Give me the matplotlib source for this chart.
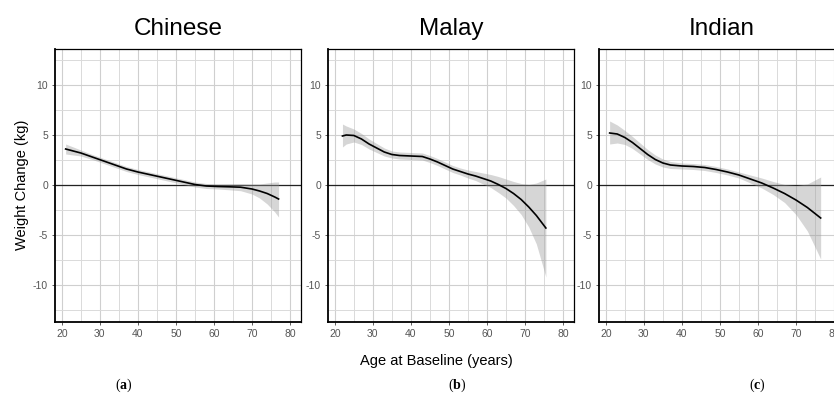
import matplotlib
matplotlib.use("Agg")
import matplotlib.pyplot as plt
from matplotlib.ticker import MultipleLocator

plt.rcParams['font.family'] = ['Liberation Sans', 'DejaVu Sans']
plt.rcParams['axes.unicode_minus'] = False
plt.rcParams['mathtext.fontset'] = 'custom'
plt.rcParams['mathtext.rm'] = 'Liberation Serif'
plt.rcParams['mathtext.bf'] = 'Liberation Serif:bold'

titles = ["Chinese", "Malay", "Indian"]
panel_tags = ["a", "b", "c"]

chinese_age = [21, 23, 25, 28, 31, 34, 37, 40, 43, 46, 49, 52, 55, 58, 61, 64, 67, 70, 72, 74, 76, 77]
chinese_fit = [3.6, 3.4, 3.2, 2.8, 2.4, 2.0, 1.6, 1.3, 1.05, 0.8, 0.55, 0.3, 0.05, -0.1, -0.15,
               -0.18, -0.22, -0.4, -0.6, -0.85, -1.2, -1.4]
chinese_hi = [4.1, 3.8, 3.5, 3.05, 2.65, 2.25, 1.85, 1.55, 1.3, 1.05, 0.8, 0.55, 0.3, 0.15, 0.1,
              0.12, 0.13, 0.1, 0.1, 0.2, 0.3, 0.3]
chinese_lo = [3.1, 3.0, 2.9, 2.55, 2.15, 1.75, 1.35, 1.05, 0.8, 0.55, 0.3, 0.05, -0.2, -0.35, -0.4,
              -0.48, -0.57, -0.9, -1.3, -1.9, -2.7, -3.2]

malay_age = [22, 23, 25, 27, 29, 31, 33, 35, 37, 40, 43, 45, 47, 49, 51, 53, 55, 57, 59, 61, 63,
             65, 67, 69, 71, 73, 75.5]
malay_fit = [4.9, 5.0, 4.95, 4.6, 4.1, 3.7, 3.3, 3.05, 2.95, 2.9, 2.85, 2.6, 2.3, 1.95, 1.6, 1.35,
             1.1, 0.9, 0.65, 0.4, 0.05, -0.35, -0.85, -1.45, -2.2, -3.05, -4.3]
malay_hi = [6.1, 5.9, 5.6, 5.15, 4.6, 4.15, 3.7, 3.4, 3.3, 3.25, 3.2, 2.95, 2.65, 2.3, 1.95, 1.7,
            1.5, 1.35, 1.2, 1.05, 0.85, 0.6, 0.35, 0.15, 0.05, 0.2, 0.6]
malay_lo = [3.8, 4.1, 4.3, 4.05, 3.6, 3.25, 2.9, 2.7, 2.6, 2.55, 2.5, 2.25, 1.95, 1.6, 1.25, 1.0,
            0.7, 0.45, 0.1, -0.25, -0.75, -1.3, -2.05, -2.95, -4.2, -5.9, -9.2]

indian_age = [21, 23, 25, 27, 29, 31, 33, 35, 37, 40, 43, 46, 49, 52, 55, 58, 61, 64, 67, 70, 73, 76.5]
indian_fit = [5.2, 5.1, 4.75, 4.25, 3.65, 3.05, 2.55, 2.2, 2.0, 1.9, 1.85, 1.75, 1.55, 1.3, 1.0,
              0.6, 0.2, -0.3, -0.85, -1.5, -2.25, -3.3]
indian_hi = [6.4, 6.0, 5.45, 4.85, 4.2, 3.55, 3.0, 2.6, 2.35, 2.2, 2.15, 2.05, 1.85, 1.6, 1.3,
             1.0, 0.7, 0.35, 0.05, -0.05, 0.1, 0.8]
indian_lo = [4.1, 4.2, 4.05, 3.65, 3.1, 2.55, 2.1, 1.8, 1.65, 1.6, 1.55, 1.45, 1.25, 1.0, 0.7,
             0.2, -0.3, -0.95, -1.75, -2.95, -4.6, -7.4]

series = [
    (chinese_age, chinese_fit, chinese_lo, chinese_hi),
    (malay_age, malay_fit, malay_lo, malay_hi),
    (indian_age, indian_fit, indian_lo, indian_hi),
]

W, H = 834, 394
fig = plt.figure(figsize=(W / 100, H / 100), dpi=100)

lefts = [55, 328, 599]
ax_w, ax_top, ax_bot = 246, 49, 322

for i, (age, fit, lo, hi) in enumerate(series):
    ax = fig.add_axes([lefts[i] / W, (H - ax_bot) / H, ax_w / W, (ax_bot - ax_top) / H])
    ax.set_xlim(18.2, 82.9)
    ax.set_ylim(-13.7, 13.6)
    ax.xaxis.set_major_locator(MultipleLocator(10))
    ax.xaxis.set_minor_locator(MultipleLocator(5))
    ax.yaxis.set_major_locator(MultipleLocator(5))
    ax.yaxis.set_minor_locator(MultipleLocator(2.5))
    ax.grid(which='major', color='#cfcfcf', lw=0.8)
    ax.grid(which='minor', color='#dadada', lw=0.7)
    ax.set_axisbelow(True)
    ax.tick_params(which='major', direction='out', length=2.5, width=0.6, color='#444444',
                   labelsize=7.5, labelcolor='#555555', pad=2.5)
    ax.tick_params(which='minor', length=0)
    for side in ['left', 'bottom']:
        ax.spines[side].set_linewidth(1.3)
    for side in ['top', 'right']:
        ax.spines[side].set_linewidth(0.9)

    ax.axhline(0, color='#222222', lw=0.9, zorder=2)
    ax.fill_between(age, lo, hi, color='#999999', alpha=0.4, lw=0, zorder=3)
    ax.plot(age, fit, color='black', lw=1.2, zorder=4)
    ax.set_title(titles[i], fontsize=17.5, pad=10)

    fig.text(lefts[i] / W + [0.082, 0.155, 0.19][i], (H - 385) / H,
             r'($\mathbf{' + panel_tags[i] + r'}$)', family='Liberation Serif',
             fontsize=10, ha='center', va='center')

fig.text(22 / W, (H - 185) / H, "Weight Change (kg)", rotation=90, fontsize=10.5,
         ha='center', va='center')
fig.text(436 / W, (H - 361) / H, "Age at Baseline (years)", fontsize=10.5,
         ha='center', va='center')

fig.savefig("out.png", dpi=100)
